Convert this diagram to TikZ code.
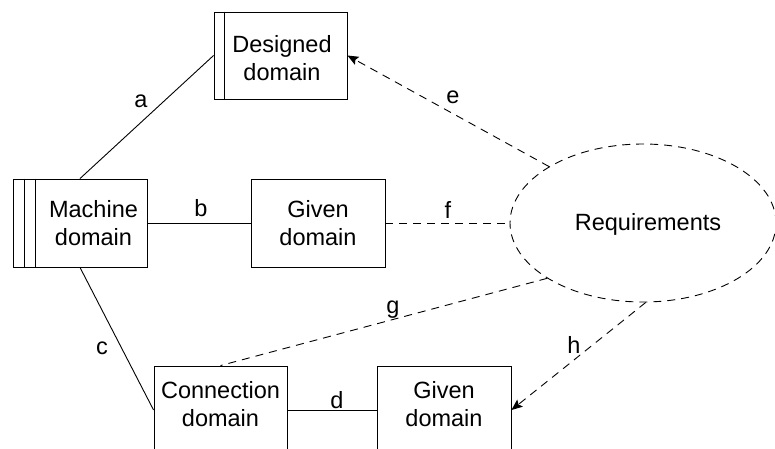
\documentclass[tikz,border=0pt]{standalone}
\usepackage{fontspec}
\setmainfont{Liberation Sans}
\usetikzlibrary{shapes.geometric,arrows.meta}
\begin{document}
\begin{tikzpicture}[x=1pt,y=-1pt,
  every node/.style={font=\fontsize{23.5}{28.5}\selectfont},
  dombox/.style={draw=black,line width=0.9pt,rectangle,minimum width=134pt,minimum height=88pt,inner sep=0pt,align=center},
  txt/.style={align=center,inner sep=0pt},
  lbl/.style={anchor=base,inner sep=0pt},
  conn/.style={line width=0.9pt},
  dsh/.style={line width=0.9pt,dash pattern=on 8pt off 6pt},
  arr/.style={-{Stealth[length=11pt,width=9pt,inset=2pt]}}
]
\useasboundingbox (0,0) rectangle (775,448);
% boxes
\node[dombox,minimum width=133pt,minimum height=87pt] (des) at (280.5,55.5) {};
\node[txt] (destxt) at (282,58) {Designed\\domain};
\draw[line width=0.9pt] ([xshift=11pt]des.north west) -- ([xshift=11pt]des.south west);

\node[dombox] (mach) at (80,223) {};
\node[txt] (machtxt) at (93.5,223) {Machine\\domain};
\draw[line width=0.9pt] ([xshift=12pt]mach.north west) -- ([xshift=12pt]mach.south west);
\draw[line width=0.9pt] ([xshift=23pt]mach.north west) -- ([xshift=23pt]mach.south west);

\node[dombox] (giv1) at (318,223) {Given\\domain};
\node[dombox,minimum width=133pt] (cdom) at (220.5,410) {};
\node[txt] (cdomtxt) at (220.5,404) {Connection\\domain};
\node[dombox] (giv2) at (444,410) {};
\node[txt] (giv2txt) at (444,404) {Given\\domain};

\node[draw=black,dash pattern=on 8pt off 6pt,line width=0.9pt,ellipse,minimum width=266pt,minimum height=158pt,inner sep=0pt] (req) at (643,223) {};
\node[txt] (reqtxt) at (648,224) {Requirements};

% connectors
\draw[conn] (mach.north) -- (des.west);
\draw[conn] (mach.east) -- (giv1.west);
\draw[conn] (mach.south) -- (cdom.west);
\draw[conn] (cdom.east) -- (giv2.west);
\draw[dsh,arr] (req.149) -- (des.east);
\draw[dsh] (giv1.east) -- (req.west);
\draw[dsh] (req.210) -- (cdom.north);
\draw[dsh,arr] (req.272) -- (giv2.east);

% labels
\node[lbl] (la) at (141,107) {a};
\node[lbl] (lb) at (201,216) {b};
\node[lbl] (lc) at (102,354) {c};
\node[lbl] (ld) at (337,408) {d};
\node[lbl] (le) at (453,103) {e};
\node[lbl] (lf) at (448,218) {f};
\node[lbl] (lg) at (393,313) {g};
\node[lbl] (lh) at (574,353) {h};
\end{tikzpicture}
\end{document}
